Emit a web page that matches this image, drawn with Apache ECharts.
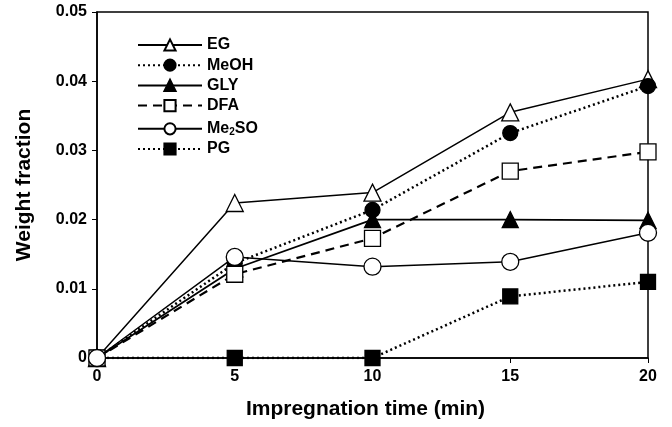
<!DOCTYPE html>
<html><head><meta charset="utf-8">
<script src="https://cdn.jsdelivr.net/npm/echarts@6/dist/echarts.min.js"></script>
<style>html,body{margin:0;padding:0;background:#fff}#c{width:672px;height:427px}</style>
</head><body><div id="c"></div>
<script>
const times = [0, 5, 10, 15, 20];
const EG    = [0, 0.0224, 0.0239, 0.0355, 0.0403];
const MeOH  = [0, 0.0137, 0.0214, 0.0325, 0.0393];
const GLY   = [0, 0.0129, 0.0200, 0.0200, 0.0199];
const DFA   = [0, 0.0121, 0.0173, 0.0270, 0.0298];
const Me2SO = [0, 0.0146, 0.0132, 0.0139, 0.0181];
const PG    = [0, 0, 0, 0.0089, 0.0110];
const seriesNames = ['EG', 'MeOH', 'GLY', 'DFA', 'Me2SO', 'PG'];
const yTicks = [0, 0.01, 0.02, 0.03, 0.04, 0.05];

const FONT = '"Liberation Sans", Arial, sans-serif';
function pts(v){ return times.map((t,i)=>[t, v[i]]); }
function mk(name, data, symbol, size, fill, ltype, lw, z){
  return {
    name, type:'line', data: pts(data), symbol, symbolSize: size,
    itemStyle:{color: fill, borderColor:'#000', borderWidth:1.3},
    lineStyle:{color:'#000', width: lw, type: ltype},
    z: z, animation:false
  };
}
const chart = echarts.init(document.getElementById('c'), null, {renderer:'canvas'});
chart.setOption({
  backgroundColor:'#fff',
  animation:false,
  grid:{left:97, right:24, top:12, bottom:69, show:true, borderColor:'#000', borderWidth:1.5},
  legend:{
    orient:'vertical', left:132, top:32, itemWidth:64, itemHeight:14, itemGap:4.2,
    data: seriesNames,
    textStyle:{fontFamily:FONT, fontWeight:'bold', fontSize:16, lineHeight:16, color:'#000',
      rich:{sub:{fontFamily:FONT, fontWeight:'bold', fontSize:10, lineHeight:16, color:'#000', verticalAlign:'bottom', padding:[9,0,0,0]}}},
    formatter: n => n === 'Me2SO' ? 'Me{sub|2}SO' : n
  },
  xAxis:{
    type:'value', min:0, max:20, interval:5,
    name:'Impregnation time (min)', nameLocation:'middle', nameGap:41,
    nameTextStyle:{fontFamily:FONT, fontWeight:'bold', fontSize:21, color:'#000', padding:[0,14,0,0]},
    axisLine:{lineStyle:{color:'#000', width:1.5}},
    axisTick:{show:true, inside:false, length:5, lineStyle:{color:'#000'}},
    axisLabel:{fontFamily:FONT, fontWeight:'bold', fontSize:16, color:'#000', margin:11},
    splitLine:{show:false}
  },
  yAxis:{
    type:'value', min:0, max:0.05, interval:0.01,
    name:'Weight fraction', nameLocation:'middle', nameGap:62,
    nameTextStyle:{fontFamily:FONT, fontWeight:'bold', fontSize:21, color:'#000'},
    axisLine:{show:true, lineStyle:{color:'#000', width:1.5}},
    axisTick:{show:true, inside:false, length:5, lineStyle:{color:'#000'}},
    axisLabel:{fontFamily:FONT, fontWeight:'bold', fontSize:16, color:'#000', margin:10,
      formatter: v => { const t = yTicks.find(x => Math.abs(x - v) < 1e-9); return t === 0 ? '0' : (t !== undefined ? t.toFixed(2) : ''); }},
    splitLine:{show:false}
  },
  series:[
    mk('EG', EG, 'triangle', 17, '#fff', 'solid', 1.5, 3),
    mk('MeOH', MeOH, 'circle', 15, '#000', [2,3], 2.5, 4),
    mk('GLY', GLY, 'triangle', 16, '#000', 'solid', 1.8, 5),
    mk('DFA', DFA, 'rect', 16, '#fff', [9,6], 2.2, 6),
    mk('Me2SO', Me2SO, 'circle', 17, '#fff', 'solid', 1.5, 7),
    mk('PG', PG, 'rect', 15, '#000', [2,3], 2.5, 2)
  ]
});
</script></body></html>
